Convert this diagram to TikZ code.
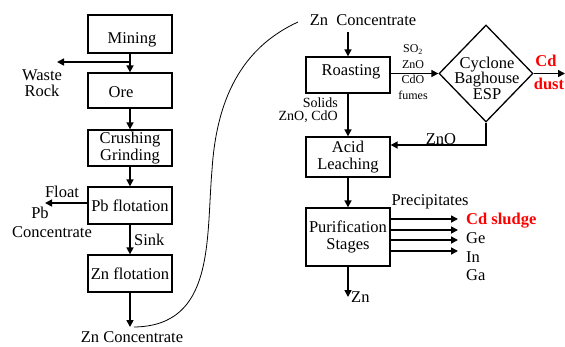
\documentclass[tikz,border=0pt]{standalone}
\usepackage{fontspec}
\setmainfont{Liberation Serif}
\usetikzlibrary{shapes.geometric,arrows.meta}
\newcommand\fmain{\fontsize{16.5}{16.5}\selectfont}
\newcommand\fdia{\fontsize{16.5}{15.5}\selectfont}
\newcommand\fsmall{\fontsize{12}{15.5}\selectfont}
\newcommand\fmid{\fontsize{14}{13.5}\selectfont}
\definecolor{cdred}{RGB}{255,0,0}
\begin{document}
\begin{tikzpicture}[x=1pt,y=-1pt,
 box/.style={draw,line width=1.3pt,minimum width=84pt,inner sep=0pt,align=center,font=\fmain},
 arr/.style={line width=1.6pt,-{Triangle[length=7pt,width=7pt]}},
 lbl/.style={inner sep=0pt,font=\fmain,align=center},
 cdlbl/.style={inner sep=0pt,font=\fmain\bfseries,text=cdred,align=center}]
\useasboundingbox (0,0) rectangle (565,346);
% left column
\node[box,minimum height=38pt] (mining) at (130,34) {};
\node[lbl] (miningt) at (132,40) {Mining};
\node[box,minimum height=35pt] (ore) at (130,90.5) {};
\node[lbl] (oret) at (121,92) {Ore};
\node[box,minimum height=36pt] (crush) at (130,148) {Crushing\\Grinding};
\node[box,minimum height=37pt] (pb) at (130,205.5) {Pb flotation};
\node[box,minimum height=37pt] (zn) at (130,273.5) {Zn flotation};
\draw[arr] (mining) -- (ore);
\coordinate (wr) at (57,62);
\draw[arr] (mining.south |- wr) -- (wr);
\node[lbl] (waste) at (42,83) {Waste\\Rock};
\draw[arr] (ore) -- (crush);
\draw[arr] (crush) -- (pb);
\coordinate (fl) at (45,203);
\draw[arr] (pb.west |- fl) -- (fl);
\node[lbl] (float) at (62,192) {Float};
\node[lbl] (pbl) at (40,213) {Pb};
\node[lbl] (conc) at (52,232) {Concentrate};
\draw[arr] (pb) -- (zn);
\node[lbl,anchor=west] (sink) at (134,240) {Sink};
\coordinate (znc) at (130,327);
\draw[arr] (zn) -- (znc);
\node[lbl] (znconc) at (132,337) {Zn Concentrate};
% curve
\coordinate (cs) at (134,327);
\coordinate (ce) at (298,22);
\draw[line width=0.8pt] (cs) .. controls (215,326) and (206,240) .. (212,170) .. controls (217,90) and (248,45) .. (ce);
% right column
\node[lbl] (topzn) at (363,20) {Zn\ \ Concentrate};
\node[box,minimum height=36pt] (roast) at (348,75) {};
\node[lbl] (roastt) at (351,72) {Roasting};
\coordinate (ti) at (348,32);
\draw[arr] (ti) -- (roast);
\node[draw,diamond,line width=1.3pt,minimum width=94pt,minimum height=97pt,inner sep=0pt] (cyc) at (486,73.5) {};
\node[lbl,font=\fdia] (cyct) at (487,78) {Cyclone\\Baghouse\\ESP};
\draw[arr] (roast.east |- cyc.west) -- (cyc.west);
\node[lbl,font=\fsmall] (fumes) at (413,72) {SO\textsubscript{2}\\ZnO\\CdO\\fumes};
\coordinate (cd) at (565,73.5);
\draw[arr] (cyc.east) -- (cd);
\node[cdlbl] (cdl) at (546,61) {Cd};
\node[cdlbl] (dust) at (549,84) {dust};
\node[box,minimum height=40pt] (acid) at (348,157) {Acid\\Leaching};
\draw[arr] (roast) -- (acid);
\node[lbl,font=\fmid,align=right,anchor=east] (solids) at (338,110) {Solids\\ZnO, CdO};
\draw[arr] (cyc.south) |- ([yshift=12pt]acid.east);
\node[lbl] (zno) at (441,139) {ZnO};
\node[box,minimum height=58pt] (pur) at (348,237) {Purification\\Stages};
\draw[arr] (acid) -- (pur);
\coordinate (p1) at (458,219);
\coordinate (p2) at (458,230);
\coordinate (p3) at (458,240);
\coordinate (p4) at (458,251);
\foreach \i in {1,...,4} \draw[arr] (pur.east |- p\i) -- (p\i);
\node[lbl] (prec) at (430,202) {Precipitates};
\node[cdlbl,anchor=west] (cds) at (466,221) {Cd sludge};
\node[lbl,anchor=west] (ge) at (466,238) {Ge};
\node[lbl,anchor=west] (in) at (466,257) {In};
\node[lbl,anchor=west] (ga) at (466,275) {Ga};
\coordinate (znout) at (348,297);
\draw[arr] (pur) -- (znout);
\node[lbl,anchor=west] (znl) at (351,297) {Zn};
\end{tikzpicture}
\end{document}
